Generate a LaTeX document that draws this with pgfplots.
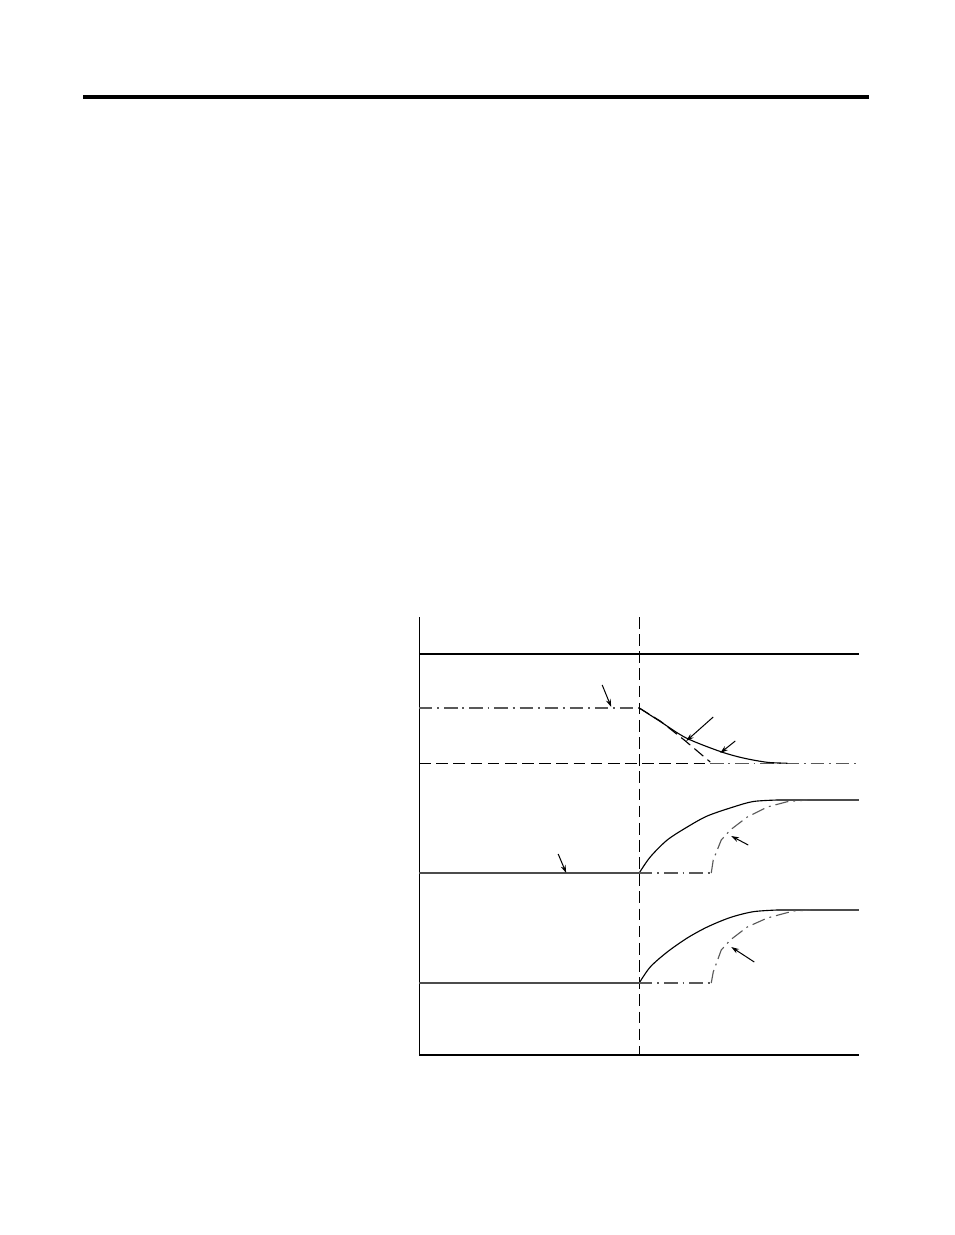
\documentclass[border=0pt]{standalone}
\usepackage{pgfplots}
\pgfplotsset{compat=1.18}
\usetikzlibrary{arrows.meta}

% the page is 612pt x 792pt; coordinates are given in image pixels (954 x 1235)
\tikzset{
  thin line/.style={line width=0.72pt},
  dsh/.style={thin line, black, dash pattern=on 7.5pt off 3.5pt},
  dshdot/.style={thin line, black!65, dash pattern=on 8.5pt off 3.2pt on 1.2pt off 3.2pt},
  arr/.style={line width=0.65pt, black, -{Stealth[length=5pt,width=3.2pt]}},
}

\begin{document}
\begin{tikzpicture}
\begin{axis}[
    width=612pt, height=792pt,
    scale only axis,
    hide axis,
    xmin=0, xmax=954,
    ymin=0, ymax=1235,
    y dir=reverse,
    clip=false,
]
% page rule
\addplot[black, line width=2.3pt] coordinates {(83,97) (869,97)};

% frame of the diagram
\addplot[thin line, black] coordinates {(419,617) (419,1055) (859,1055)};
\addplot[thin line, black] coordinates {(419,654) (859,654)};
\addplot[dsh] coordinates {(639,617) (639,1055)};

% panel 1
\addplot[dshdot] coordinates {(419,708) (639,708)};
\addplot[dsh] coordinates {(419,763.4) (710,763.4)};
\addplot[dshdot] coordinates {(710,763.4) (859,763.4)};
\addplot[dsh] coordinates {(639,708) (660,721) (684,740) (710,762)};
\addplot[thin line, black, smooth] coordinates {
  (639,708) (660,721.5) (686,738) (720,751.5) (743,758) (767,762.3) (787,763.2)};

% panel 2
\addplot[thin line, black!70] coordinates {(419,873) (639,873)};
\addplot[thin line, black, smooth] coordinates {
  (639,873) (650,857) (667,840) (687,827) (707,816) (733,807) (753,801.5) (777,800)};
\addplot[thin line, black!70] coordinates {(777,800) (859,800)};
\addplot[dshdot] coordinates {(639,873) (711,873)};
\addplot[dshdot] coordinates {
  (711,873) (713,860) (721,840) (730,830) (747,817) (767,807) (787,801.7) (807,800)};

% panel 3
\addplot[thin line, black!70] coordinates {(419,983) (639,983)};
\addplot[thin line, black, smooth] coordinates {
  (639,983) (650,967) (667,952) (687,938) (707,927) (730,917.5) (753,911.7) (777,910)};
\addplot[thin line, black!70] coordinates {(777,910) (859,910)};
\addplot[dshdot] coordinates {(639,983) (711,983)};
\addplot[dshdot] coordinates {
  (711,983) (713,972) (721,950) (730,940) (747,927) (767,918) (793,911) (810,910)};

% leader arrows
\addplot[arr] coordinates {(602,685) (611,707)};
\addplot[arr] coordinates {(713,717) (686,741)};
\addplot[arr] coordinates {(735,741) (720,753)};
\addplot[arr] coordinates {(748,845) (731,836)};
\addplot[arr] coordinates {(558,854) (566,873)};
\addplot[arr] coordinates {(754,962) (731,947)};
\end{axis}
\pgfresetboundingbox
\path (current axis.south west) rectangle (current axis.north east);
\end{tikzpicture}
\end{document}
